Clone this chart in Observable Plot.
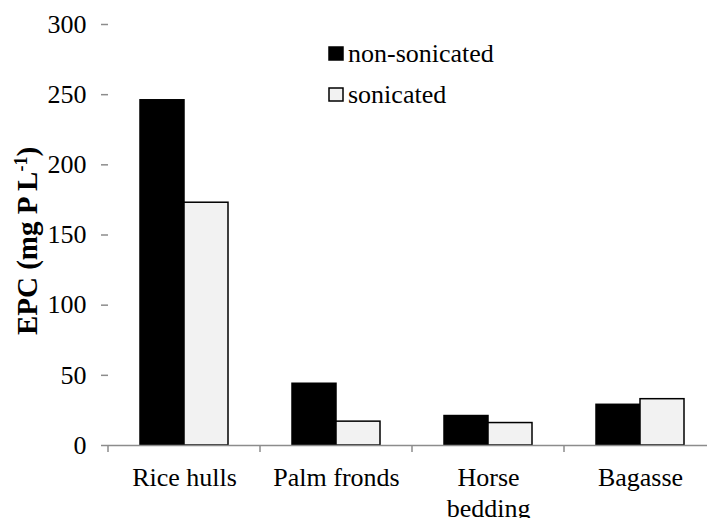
<!DOCTYPE html>
<html><head><meta charset="utf-8">
<script src="https://cdn.jsdelivr.net/npm/d3@7"></script>
<script src="https://cdn.jsdelivr.net/npm/@observablehq/plot@0.6"></script>
<style>
body{margin:0;overflow:hidden;background:#fff;}
#chart{position:relative;width:707px;height:518px;overflow:hidden;}
#chart svg, #chart svg text, #chart svg tspan{font-family:"Liberation Serif","Times New Roman",serif !important;}
</style></head><body><div id="chart"></div>
<script>
const categories = ["Rice hulls", "Palm fronds", "Horse bedding", "Bagasse"];
const categoryLabels = ["Rice hulls", "Palm fronds", "Horse\nbedding", "Bagasse"];
const series = ["non-sonicated", "sonicated"];
const nonSonicated = [246, 44, 21, 29];
const sonicated = [173, 17, 16, 33];
const yTicks = [0, 50, 100, 150, 200, 250, 300];
const seriesColors = ["#000000", "#f2f2f2"];

const data = categories.flatMap((c, i) => [
  {category: c, series: series[0], value: nonSonicated[i]},
  {category: c, series: series[1], value: sonicated[i]}
]);
const FONT = "Liberation Serif, Times New Roman, serif";
const AXIS = "#8c8c8c";

const chart = Plot.plot({
  width: 707, height: 518,
  marginTop: 24, marginBottom: 73, marginLeft: 107, marginRight: 0,
  style: {fontFamily: FONT, fontSize: "26px", color: "#000", background: "#fff", overflow: "hidden"},
  fx: {domain: categories, range: [107, 716], padding: 0, label: null},
  x: {domain: series, paddingInner: 0, paddingOuter: 0.69, axis: null},
  y: {domain: [0, 300], label: null},
  color: {domain: series, range: seriesColors},
  marks: [
    Plot.barY(data, {fx: "category", x: "series", y: "value", fill: "series", stroke: "black", strokeWidth: 1.5}),
    Plot.ruleY([0], {stroke: AXIS, strokeWidth: 1.5}),
    Plot.axisY({ticks: yTicks, tickSize: 7, tickPadding: 15, stroke: AXIS, fill: "black", line: true, label: null, fontSize: 26, strokeWidth: 1.5}),
    Plot.axisFx({anchor: "bottom", tickSize: 0, tickPadding: 18, label: null, fontSize: 26, lineHeight: 1.2, fill: "black",
      tickFormat: d => categoryLabels[categories.indexOf(d)]})
  ]
});
document.getElementById("chart").appendChild(chart);

const svg = d3.select(chart);
const fx = chart.scale("fx");
const y = chart.scale("y");
const y0 = y.apply(0);
const edges = categories.map(c => fx.apply(c)).concat([fx.apply(categories[categories.length - 1]) + fx.bandwidth]);
svg.append("g").selectAll("line").data(edges).join("line")
  .attr("x1", d => d).attr("x2", d => d)
  .attr("y1", y0).attr("y2", y0 + 7)
  .attr("stroke", AXIS).attr("stroke-width", 1.5);

// y-axis title with superscript
const t = svg.append("text")
  .attr("transform", "translate(37,241) rotate(-90)")
  .attr("text-anchor", "middle")
  .attr("font-family", FONT).attr("font-weight", "bold").attr("font-size", 29).attr("fill", "black");
t.append("tspan").text("EPC (mg P L");
t.append("tspan").attr("baseline-shift", "super").attr("font-size", 18).text("-1");
t.append("tspan").text(")");

// legend
const legend = svg.append("g").attr("font-family", FONT).attr("font-size", 26).attr("text-anchor", "start");
series.forEach((s, i) => {
  const gy = [47, 88][i];
  legend.append("rect").attr("x", 329).attr("y", gy).attr("width", 14).attr("height", 13)
    .attr("fill", seriesColors[i]).attr("stroke", "black").attr("stroke-width", 1.5);
  legend.append("text").attr("x", 348).attr("y", gy + 14.5).attr("fill", "black").text(s);
});
</script></body></html>
